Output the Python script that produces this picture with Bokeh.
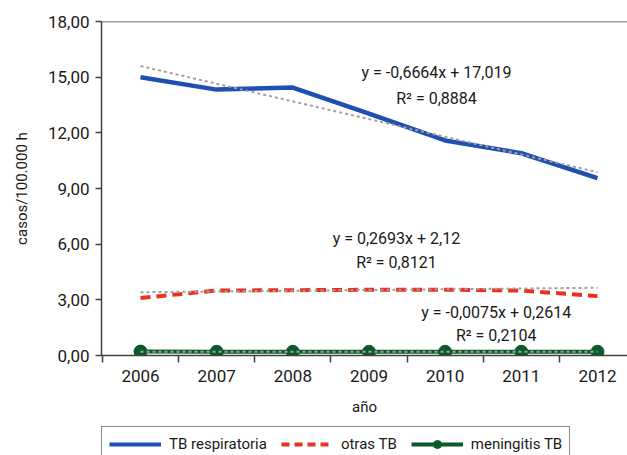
from bokeh.plotting import figure
from bokeh.layouts import column
from bokeh.models import FixedTicker, Span, Legend, LegendItem, Range1d
from bokeh.core.properties import value
from bokeh.embed import file_html
from bokeh.resources import INLINE

years = [2006, 2007, 2008, 2009, 2010, 2011, 2012]
tb_respiratoria = [15.0, 14.33, 14.44, 13.04, 11.59, 10.9, 9.56]
otras_tb = [3.1, 3.5, 3.52, 3.54, 3.55, 3.5, 3.2]
meningitis_tb = [0.21, 0.2, 0.2, 0.2, 0.2, 0.2, 0.2]
trend_years = [2006, 2012]
trend_resp = [15.6, 9.88]
trend_otras = [3.41, 3.65]
trend_men = [0.2, 0.2]
y_ticks = [0, 3, 6, 9, 12, 15, 18]
eq_texts = ["y = -0,6664x + 17,019", "R² = 0,8884",
            "y = 0,2693x + 2,12", "R² = 0,8121",
            "y = -0,0075x + 0,2614", "R² = 0,2104"]
series_names = ["TB respiratoria", "otras TB", "meningitis TB"]

FONT = "Roboto"
AX = "#404040"
TXT = "#1a1a1a"
BLUE, RED, GREEN, GRAY = "#1f4fb0", "#e8321e", "#0b5a2a", "#a0a0a0"

p = figure(width=627, height=420, output_backend="svg", toolbar_location=None,
           x_range=Range1d(2005.488, 2012.394), y_range=Range1d(0, 18),
           min_border_left=101, min_border_top=21, min_border_right=0,
           min_border_bottom=65)
p.outline_line_color = None
p.grid.grid_line_color = None

p.add_layout(Span(location=18, dimension="width", line_color=AX, line_width=1.5))

p.xaxis.ticker = FixedTicker(ticks=years, minor_ticks=[y - 0.5 for y in years] + [2012.5])
p.xaxis.major_tick_line_color = None
p.xaxis.minor_tick_out = 7
p.xaxis.minor_tick_in = 0
p.xaxis.minor_tick_line_color = AX
p.xaxis.minor_tick_line_width = 1.5
p.xaxis.axis_line_color = AX
p.xaxis.axis_line_width = 1.5
p.xaxis.major_label_standoff = 7
p.xaxis.axis_label = "año"
p.xaxis.axis_label_standoff = 13

p.yaxis.ticker = FixedTicker(ticks=y_ticks)
p.yaxis.major_label_overrides = {t: f"{t:.2f}".replace(".", ",") for t in y_ticks}
p.yaxis.major_tick_out = 6
p.yaxis.major_tick_in = 0
p.yaxis.minor_tick_line_color = None
p.yaxis.major_tick_line_color = AX
p.yaxis.major_tick_line_width = 1.5
p.yaxis.axis_line_color = AX
p.yaxis.axis_line_width = 1.5
p.yaxis.major_label_standoff = 6
p.yaxis.axis_label = "casos/100.000 h"
p.yaxis.axis_label_standoff = 14

for ax in (p.xaxis, p.yaxis):
    ax.major_label_text_font = FONT
    ax.major_label_text_font_size = "17px"
    ax.major_label_text_color = TXT
    ax.axis_label_text_font = FONT
    ax.axis_label_text_font_size = "15px"
    ax.axis_label_text_font_style = "normal"
    ax.axis_label_text_color = TXT

p.line(years, tb_respiratoria, line_color=BLUE, line_width=4.5)
p.line(years, otras_tb, line_color=RED, line_width=4, line_dash="10 6")
p.line(years, meningitis_tb, line_color=GREEN, line_width=4)
p.scatter(years, meningitis_tb, size=13, fill_color=GREEN, line_color=GREEN)

for tr in (trend_resp, trend_otras, trend_men):
    p.line(trend_years, tr, line_color=GRAY, line_width=2, line_dash="3 3")

eq_pos = [(2009.886, 15.25), (2009.886, 13.85), (2009.36, 6.31), (2009.36, 5.01),
          (2010.67, 2.32), (2010.67, 1.08)]
p.text([xy[0] for xy in eq_pos], [xy[1] for xy in eq_pos], text=eq_texts,
       text_align="center", text_baseline="middle", text_font=value(FONT),
       text_font_size="16px", text_color=TXT)

# legend strip (its glyphs use the same data, outside this strip's visible range)
lf = figure(width=627, height=35, output_backend="svg", toolbar_location=None,
            x_range=Range1d(0, 1), y_range=Range1d(0, 1),
            x_axis_type=None, y_axis_type=None,
            min_border_left=0, min_border_right=0, min_border_top=0, min_border_bottom=0)
lf.outline_line_color = None
lf.grid.grid_line_color = None
l1 = lf.line(years, tb_respiratoria, line_color=BLUE, line_width=4)
l2 = lf.line(years, otras_tb, line_color=RED, line_width=4, line_dash="8 5")
l3 = lf.line(years, meningitis_tb, line_color=GREEN, line_width=4)
l3b = lf.scatter(years, meningitis_tb, size=7, fill_color=GREEN, line_color=GREEN)

legend = Legend(items=[LegendItem(label=series_names[0], renderers=[l1]),
                       LegendItem(label=series_names[1], renderers=[l2]),
                       LegendItem(label=series_names[2], renderers=[l3, l3b])],
                orientation="horizontal", location=(0, -7),
                label_text_font=FONT, label_text_font_size="15px",
                label_text_color=TXT,
                glyph_width=52, glyph_height=20, spacing=14, padding=7,
                label_standoff=8, margin=0,
                border_line_color=TXT, border_line_width=1.5)
lf.add_layout(legend, "center")

open("out.html", "w").write(file_html(column(p, lf, spacing=0), INLINE))
